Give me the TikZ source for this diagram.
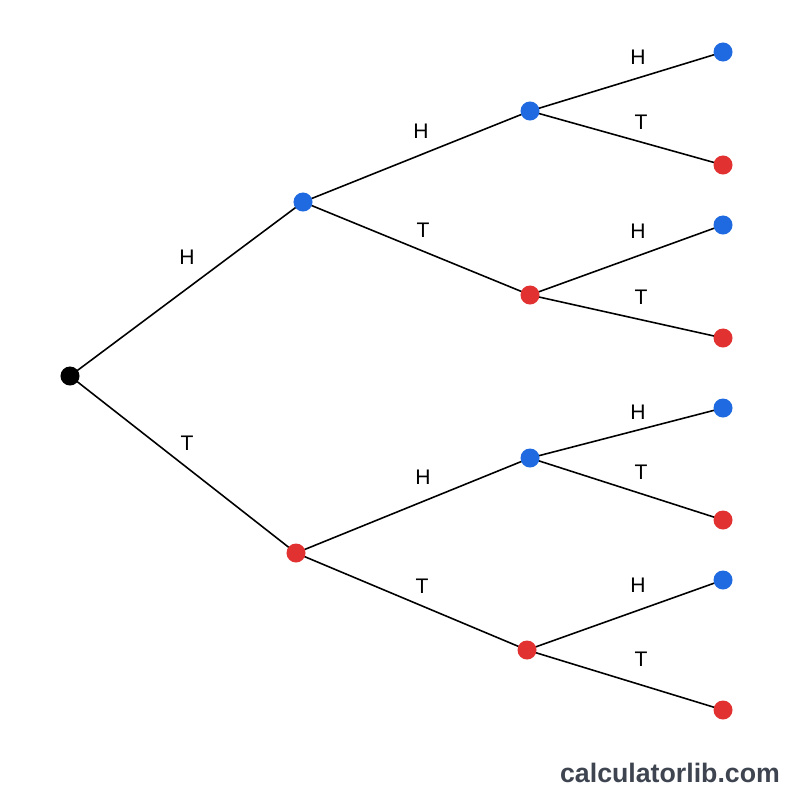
\documentclass[tikz,border=0pt]{standalone}
\usepackage{fontspec}
\setmainfont{Liberation Sans}
\definecolor{hb}{HTML}{1F6AE0}
\definecolor{tr}{HTML}{E23131}
\definecolor{wm}{HTML}{3E4450}
\begin{document}
\begin{tikzpicture}[x=0.01cm,y=-0.01cm,
  dot/.style={circle,inner sep=0pt,minimum size=0.19cm},
  hd/.style={dot,fill=hb},td/.style={dot,fill=tr},
  lbl/.style={font=\fontsize{6pt}{7pt}\selectfont},
  edge/.style={line width=0.45pt}]
\useasboundingbox (0,0) rectangle (800,800);
\fill[white] (0,0) rectangle (800,800);
\coordinate (r) at (70,376);
\coordinate (a) at (303,202); \coordinate (b) at (296,553);
\coordinate (aa) at (530,111); \coordinate (ab) at (530,295);
\coordinate (ba) at (530,458); \coordinate (bb) at (527,650);
\coordinate (l1) at (723,52); \coordinate (l2) at (723,165);
\coordinate (l3) at (723,225); \coordinate (l4) at (723,338);
\coordinate (l5) at (723,408); \coordinate (l6) at (723,520);
\coordinate (l7) at (723,580); \coordinate (l8) at (723,710);
\draw[edge] (r)--(a) (r)--(b) (a)--(aa) (a)--(ab) (b)--(ba) (b)--(bb)
 (aa)--(l1) (aa)--(l2) (ab)--(l3) (ab)--(l4) (ba)--(l5) (ba)--(l6) (bb)--(l7) (bb)--(l8);
\node[dot,fill=black] (rn) at (r) {};
\node[hd] (an) at (a) {}; \node[td] (bn) at (b) {};
\node[hd] at (aa) {}; \node[td] at (ab) {}; \node[hd] at (ba) {}; \node[td] at (bb) {};
\node[hd] at (l1) {}; \node[td] at (l2) {}; \node[hd] at (l3) {}; \node[td] at (l4) {};
\node[hd] at (l5) {}; \node[td] at (l6) {}; \node[hd] at (l7) {}; \node[td] at (l8) {};
\node[lbl] (t1) at (187,257) {H}; \node[lbl] (t2) at (187,443) {T};
\node[lbl] (t3) at (421,131) {H}; \node[lbl] (t4) at (423,230) {T};
\node[lbl] (t5) at (423,477) {H}; \node[lbl] (t6) at (422,586) {T};
\node[lbl] (t7) at (638,57) {H}; \node[lbl] (t8) at (641,122) {T};
\node[lbl] (t9) at (638,231) {H}; \node[lbl] (t10) at (641,297) {T};
\node[lbl] (t11) at (638,412) {H}; \node[lbl] (t12) at (641,472) {T};
\node[lbl] (t13) at (638,585) {H}; \node[lbl] (t14) at (641,659) {T};
\node[font=\bfseries\fontsize{7.6pt}{9pt}\selectfont,text=wm] (wmk) at (670,773) {calculatorlib.com};
\end{tikzpicture}
\end{document}
